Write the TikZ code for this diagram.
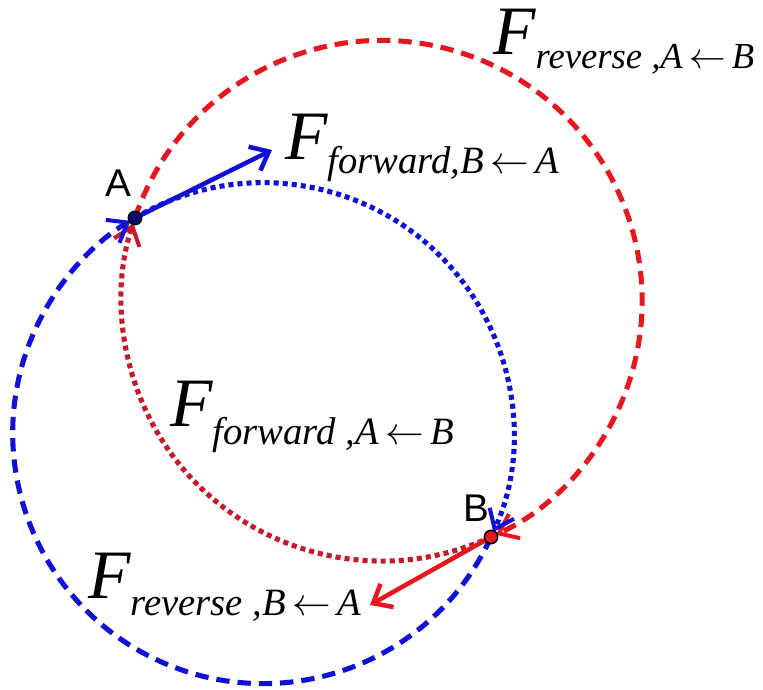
\RequirePackage{fix-cm}
\documentclass[tikz,border=0pt]{standalone}
\usepackage{fontspec}
\setmainfont{Liberation Serif}
\newfontfamily\sansf{Liberation Sans}
\usetikzlibrary{arrows.meta}
\definecolor{myred}{RGB}{232,22,30}
\definecolor{mydred}{RGB}{200,25,40}
\definecolor{myblue}{RGB}{16,16,216}
\definecolor{mynavy}{RGB}{10,10,120}
\newcommand\Fbig{\fontsize{52}{52}\selectfont}
\newcommand\Fsub{\fontsize{29}{29}\selectfont}
\newcommand\Fsubs{\fontsize{27.5}{27.5}\selectfont}
\newcommand\lar{\,$\leftarrow$\,}
\begin{document}
\begin{tikzpicture}[x=0.75pt,y=0.75pt,
  curve/.style={line width=3.8pt},
  dsh/.style={dash pattern=on 10pt off 6pt},
  dts/.style={dash pattern=on 3.8pt off 3pt},
  tip/.style={shorten >=4pt,-{Straight Barb[length=13pt,width=20pt,line width=3pt]}},
  force/.style={line width=3.4pt,-{Straight Barb[length=12pt,width=20pt]}},
  pt/.style={circle,draw=black,line width=1.2pt,inner sep=0pt,minimum size=10pt},
  lab/.style={font=\sansf\fontsize{29}{29}\selectfont,inner sep=0pt},
  flab/.style={anchor=base west,inner sep=0pt,font=\itshape}
]
\useasboundingbox (0,0) rectangle (763,689);
\coordinate (A) at (135,471);
\coordinate (B) at (491,152);
\coordinate (fA) at (272,539);
\coordinate (fB) at (370,84);
% red circle
\draw[curve,myred,dsh,tip] (A) arc[start angle=161.47,end angle=-65.2,radius=260.3];
\draw[curve,mydred,dts,tip] (B) arc[start angle=-65.2,end angle=-198.53,radius=260.3];
% blue circle
\draw[curve,myblue,dts,tip] (A) arc[start angle=120.8,end angle=-24.5,radius=250.4];
\draw[curve,myblue,dsh,tip] (B) arc[start angle=-24.5,end angle=-239.2,radius=250.4];
% forces
\draw[force,myblue] (A) -- (fA);
\draw[force,myred] (B) -- (fB);
% points
\node[pt,fill=mynavy] (a) at (A) {};
\node[pt,fill=myred] (b) at (B) {};
\node[lab] (la) at (118,506) {A};
\node[lab] (lb) at (476,181) {B};
% labels
\node[flab] (f1) at (285,529) {\Fbig F\raisebox{-10pt}{\Fsub forward,B\lar A}};
\node[flab] (f2) at (493,634) {\Fbig F\raisebox{-10pt}{\Fsubs reverse ,A\lar B}};
\node[flab] (f3) at (170,262) {\Fbig F\raisebox{-13pt}{\Fsub forward ,A\lar B}};
\node[flab] (f4) at (88,91) {\Fbig F\raisebox{-13pt}{\Fsub reverse ,B\lar A}};
\end{tikzpicture}
\end{document}
